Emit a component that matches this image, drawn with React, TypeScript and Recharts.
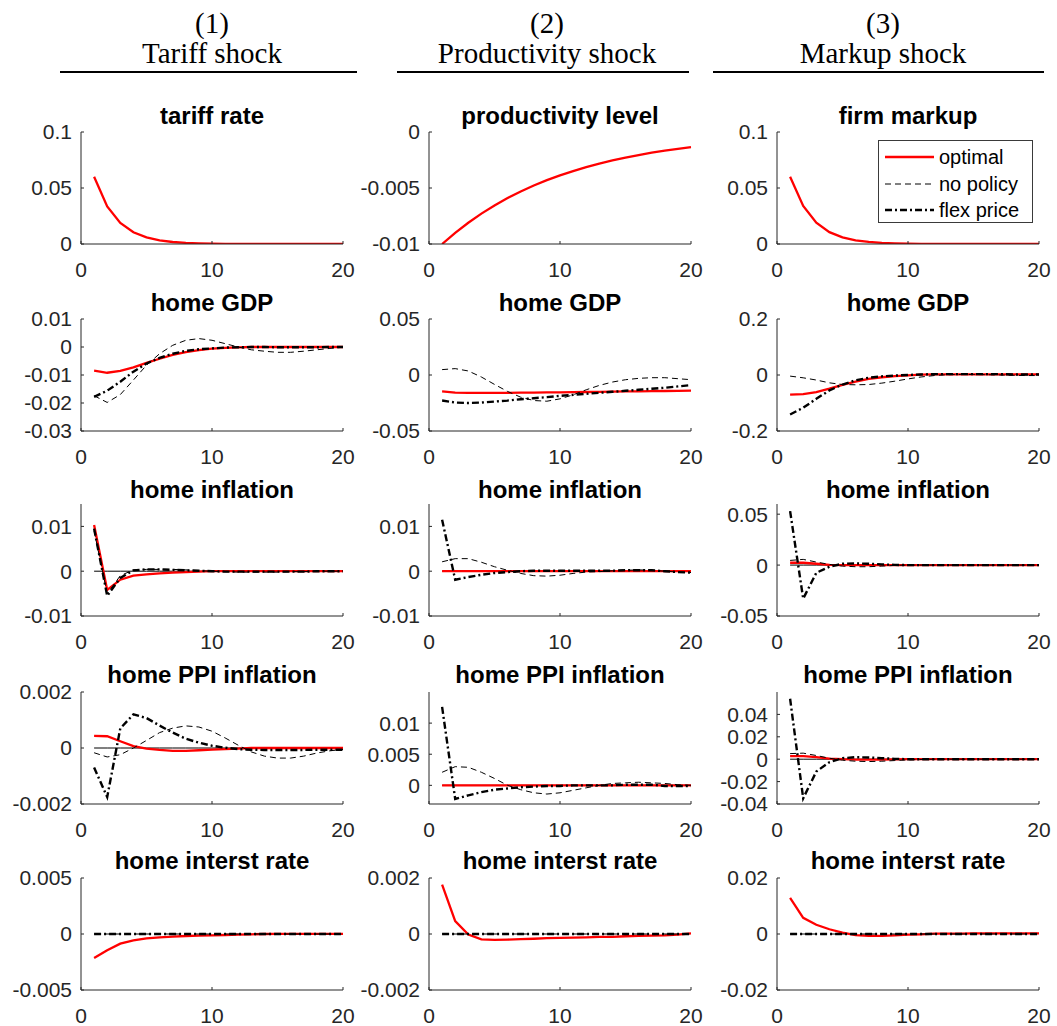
import React from 'react';
import { LineChart, Line, XAxis, YAxis } from 'recharts';

// quarters after the shock
const periods = [1, 2, 3, 4, 5, 6, 7, 8, 9, 10, 11, 12, 13, 14, 15, 16, 17, 18, 19, 20];
const flatZero = [0, 0, 0, 0, 0, 0, 0, 0, 0, 0, 0, 0, 0, 0, 0, 0, 0, 0, 0, 0];

const columnHeads = ['(1)', '(2)', '(3)'];
const shockNames = ['Tariff shock', 'Productivity shock', 'Markup shock'];
const rowTitles = [
  ['tariff rate', 'productivity level', 'firm markup'],
  ['home GDP', 'home GDP', 'home GDP'],
  ['home inflation', 'home inflation', 'home inflation'],
  ['home PPI inflation', 'home PPI inflation', 'home PPI inflation'],
  ['home interst rate', 'home interst rate', 'home interst rate'],
];
const seriesNames = ['optimal', 'no policy', 'flex price'];
const xTicks = [0, 10, 20];

// row 1: the shock itself
const tariffOpt = [0.06, 0.0335, 0.0188, 0.0105, 0.0059, 0.0033, 0.0018, 0.001, 0.0006, 0.0003, 0.0002, 0.0001, 0.0001, 0, 0, 0, 0, 0, 0, 0];
const prodOpt = [-0.01, -0.009, -0.0081, -0.00729, -0.00656, -0.0059, -0.00531, -0.00478, -0.0043, -0.00387, -0.00349, -0.00314, -0.00282, -0.00254, -0.00229, -0.00206, -0.00185, -0.00167, -0.0015, -0.00135];
const markupOpt = [0.06, 0.034, 0.019, 0.0106, 0.006, 0.0033, 0.0019, 0.001, 0.0006, 0.0003, 0.0002, 0.0001, 0.0001, 0, 0, 0, 0, 0, 0, 0];

// row 2: home GDP
const gdp1Opt = [-0.0084, -0.0092, -0.0085, -0.0073, -0.0057, -0.0042, -0.0028, -0.0018, -0.0011, -0.0006, -0.0003, -0.0001, 0, 0, 0, 0, 0, 0, 0, 0];
const gdp1Nop = [-0.0174, -0.0198, -0.017, -0.0118, -0.0065, -0.0024, 0.0006, 0.0024, 0.003, 0.0024, 0.0012, 0, -0.001, -0.0015, -0.0019, -0.0019, -0.0015, -0.001, -0.0005, -0.0001];
const gdp1Flex = [-0.0178, -0.0156, -0.0124, -0.0088, -0.0059, -0.0039, -0.0024, -0.0014, -0.0008, -0.0005, -0.0002, -0.0001, 0, 0, -0.0001, -0.0001, -0.0001, -0.0001, 0, 0];
const gdp2Opt = [-0.0147, -0.0157, -0.016, -0.016, -0.016, -0.0159, -0.0158, -0.0157, -0.0156, -0.0155, -0.0153, -0.0152, -0.015, -0.0149, -0.0147, -0.0146, -0.0144, -0.0143, -0.0141, -0.014];
const gdp2Nop = [0.0048, 0.0057, 0.0036, -0.0018, -0.0084, -0.0147, -0.0198, -0.0228, -0.0234, -0.0213, -0.0177, -0.0132, -0.0093, -0.0063, -0.0042, -0.003, -0.0024, -0.0024, -0.0033, -0.0042];
const gdp2Flex = [-0.0228, -0.0246, -0.025, -0.0246, -0.0237, -0.0228, -0.0216, -0.0207, -0.0198, -0.0186, -0.0177, -0.0168, -0.0159, -0.015, -0.0141, -0.0132, -0.0123, -0.0114, -0.0102, -0.009];
const gdp3Opt = [-0.07, -0.068, -0.061, -0.049, -0.035, -0.024, -0.014, -0.008, -0.004, -0.001, 0.001, 0.002, 0.002, 0.002, 0.002, 0.002, 0.002, 0.002, 0.002, 0.002];
const gdp3Nop = [-0.004, -0.01, -0.018, -0.028, -0.034, -0.035, -0.034, -0.029, -0.022, -0.014, -0.007, -0.002, 0.001, 0.002, 0.002, 0.001, 0, -0.001, -0.002, -0.002];
const gdp3Flex = [-0.141, -0.117, -0.085, -0.055, -0.034, -0.019, -0.01, -0.005, -0.002, 0, 0.002, 0.003, 0.003, 0.003, 0.003, 0.003, 0.003, 0.002, 0.002, 0.002];

// row 3: home inflation
const inf1Opt = [0.0103, -0.0042, -0.0019, -0.001, -0.0007, -0.0005, -0.0003, -0.0002, -0.0001, 0, 0, 0, 0, 0, 0, 0, 0, 0, 0, 0];
const inf1Nop = [0.009, -0.005, -0.001, 0.0003, 0.0004, 0.0004, 0.0004, 0.0003, 0.0001, 0, -0.0001, -0.0002, -0.0002, -0.0002, -0.0002, -0.0001, -0.0001, 0, 0, 0];
const inf1Flex = [0.0095, -0.0055, -0.0015, 0.0002, 0.0004, 0.0004, 0.0003, 0.0002, 0.0001, 0, -0.0001, -0.0001, -0.0001, -0.0001, -0.0001, -0.0001, -0.0001, 0, 0, 0];
const inf2Opt = [0, 0, 0, 0, 0, 0, 0, 0, 0, 0, 0, 0, 0, 0, 0, 0, 0, 0, 0, 0];
const inf2Nop = [0.0021, 0.0028, 0.0028, 0.002, 0.001, 0.0002, -0.0005, -0.001, -0.0011, -0.0009, -0.0005, -0.0002, -0.0001, 0.0001, 0.0002, 0.0003, 0.0002, 0, -0.0002, -0.0003];
const inf2Flex = [0.0115, -0.0019, -0.0013, -0.0008, -0.0004, -0.0002, 0, 0.0001, 0.0001, 0.0001, 0.0001, 0.0001, 0.0001, 0.0001, 0.0002, 0.0002, 0.0002, 0, -0.0002, -0.0003];
const inf3Opt = [0.0023, 0.0023, 0.0013, 0.0003, 0, 0, 0, 0, 0, 0, 0, 0, 0, 0, 0, 0, 0, 0, 0, 0];
const inf3Nop = [0.0046, 0.0056, 0.003, 0.0007, -0.001, -0.0016, -0.0016, -0.001, -0.0003, 0, 0, 0, 0, 0, 0, 0, 0, 0, 0, 0];
const inf3Flex = [0.053, -0.033, -0.0076, -0.0016, 0.0013, 0.0016, 0.0013, 0.0007, 0.0002, 0, 0, 0, 0, 0, 0, 0, 0, 0, 0, 0];

// row 4: home PPI inflation
const ppi1Opt = [0.00043, 0.00042, 0.00024, 0.00007, -0.00002, -0.00007, -0.0001, -0.0001, -0.00008, -0.00006, -0.00004, -0.00002, 0, 0, 0, 0, 0, 0, 0, 0];
const ppi1Nop = [-0.00017, -0.00032, -0.00024, 0, 0.00027, 0.00055, 0.00071, 0.00079, 0.00075, 0.0006, 0.00036, 0.0001, -0.00014, -0.00029, -0.00036, -0.00036, -0.00029, -0.00018, -0.0001, -0.00005];
const ppi1Flex = [-0.0007, -0.00175, 0.0007, 0.0012, 0.00107, 0.0008, 0.00055, 0.00033, 0.00019, 0.00008, 0.00001, -0.00004, -0.00006, -0.00007, -0.00007, -0.00007, -0.00007, -0.00006, -0.00006, -0.00006];
const ppi2Opt = [0, 0, 0, 0, 0, 0, 0, 0, 0, 0, 0, 0, 0, 0, 0, 0, 0, 0, 0, 0];
const ppi2Nop = [0.0021, 0.003, 0.0029, 0.0021, 0.0011, 0, -0.0007, -0.0012, -0.0014, -0.0012, -0.0008, -0.0004, 0, 0.0003, 0.0004, 0.0005, 0.0004, 0.0003, 0.0001, 0];
const ppi2Flex = [0.0126, -0.0022, -0.0016, -0.0011, -0.0007, -0.0005, -0.0003, -0.0002, -0.0001, -0.0001, 0, 0, 0, 0, 0.0001, 0.0001, 0.0001, -0.0001, -0.0001, -0.0001];
const ppi3Opt = [0.0027, 0.0027, 0.0018, 0.0006, 0, -0.0003, -0.0003, -0.0003, -0.0001, 0, 0, 0, 0, 0, 0, 0, 0, 0, 0, 0];
const ppi3Nop = [0.005, 0.0054, 0.0033, 0.0009, -0.0009, -0.0018, -0.0021, -0.0018, -0.0012, -0.0006, -0.0003, 0, 0, 0, 0, 0, 0, 0, 0, 0];
const ppi3Flex = [0.054, -0.035, -0.011, -0.0027, 0.0009, 0.0018, 0.0015, 0.0009, 0.0003, 0, 0, 0, 0, 0, 0, 0, 0, 0, 0, 0];

// row 5: home interest rate (no policy / flex price stay at zero)
const rate1Opt = [-0.00214, -0.00145, -0.00086, -0.00056, -0.00039, -0.0003, -0.00024, -0.00018, -0.00015, -0.00012, -0.00009, -0.00006, -0.00003, 0, 0.00001, 0.00002, 0.00002, 0.00002, 0.00002, 0.00002];
const rate2Opt = [0.00176, 0.00046, -0.00002, -0.00019, -0.00021, -0.0002, -0.00018, -0.00017, -0.00015, -0.00014, -0.00013, -0.00012, -0.0001, -0.0001, -0.00008, -0.00007, -0.00006, -0.00005, -0.00002, 0.00002];
const rate3Opt = [0.0129, 0.0058, 0.0033, 0.0017, 0.0005, -0.0004, -0.0007, -0.0007, -0.0005, -0.0002, -0.0001, 0.0001, 0.0001, 0.0001, 0.0002, 0.0002, 0.0002, 0.0002, 0.0002, 0.0002];

// y-axis ranges and tick labels
const yDomains = [
  [[0, 0.1], [-0.01, 0], [0, 0.1]],
  [[-0.03, 0.01], [-0.05, 0.05], [-0.2, 0.2]],
  [[-0.01, 0.015], [-0.01, 0.015], [-0.05, 0.06]],
  [[-0.002, 0.002], [-0.003, 0.015], [-0.04, 0.06]],
  [[-0.005, 0.005], [-0.002, 0.002], [-0.02, 0.02]],
];
const yTicks = [
  [[0, 0.05, 0.1], [-0.01, -0.005, 0], [0, 0.05, 0.1]],
  [[-0.03, -0.02, -0.01, 0, 0.01], [-0.05, 0, 0.05], [-0.2, 0, 0.2]],
  [[-0.01, 0, 0.01], [-0.01, 0, 0.01], [-0.05, 0, 0.05]],
  [[-0.002, 0, 0.002], [0, 0.005, 0.01], [-0.04, -0.02, 0, 0.02, 0.04]],
  [[-0.005, 0, 0.005], [-0.002, 0, 0.002], [-0.02, 0, 0.02]],
];

const optRows = [
  [tariffOpt, prodOpt, markupOpt],
  [gdp1Opt, gdp2Opt, gdp3Opt],
  [inf1Opt, inf2Opt, inf3Opt],
  [ppi1Opt, ppi2Opt, ppi3Opt],
  [rate1Opt, rate2Opt, rate3Opt],
];
const nopRows = [
  [null, null, null],
  [gdp1Nop, gdp2Nop, gdp3Nop],
  [inf1Nop, inf2Nop, inf3Nop],
  [ppi1Nop, ppi2Nop, ppi3Nop],
  [flatZero, flatZero, flatZero],
];
const flexRows = [
  [null, null, null],
  [gdp1Flex, gdp2Flex, gdp3Flex],
  [inf1Flex, inf2Flex, inf3Flex],
  [ppi1Flex, ppi2Flex, ppi3Flex],
  [flatZero, flatZero, flatZero],
];
const zeroLineRows = [false, false, true, true, false];

const colLeft = [81, 429, 777];
const rowTop = [132, 319, 504, 692, 878];
const titleBase = [124, 311, 498, 683, 869];
const PW = 262;
const PH = 112;
const AXIS = '#262626';
const SANS = 'Arial, "Liberation Sans", sans-serif';
const SERIF = '"Times New Roman", "Liberation Serif", serif';

const fmt = (v: number) => String(parseFloat(Number(v).toPrecision(6)));

function Panel({ r, c }: { r: number; c: number }) {
  const opt = optRows[r][c];
  const nop = nopRows[r][c];
  const flex = flexRows[r][c];
  const data = periods.map((t, i) => ({
    t,
    opt: opt[i],
    nop: nop ? nop[i] : undefined,
    flex: flex ? flex[i] : undefined,
    zero: zeroLineRows[r] ? flatZero[i] : undefined,
  }));
  const rightPad = c === 2 ? 15 : 20;
  return (
    <div style={{ position: 'absolute', left: colLeft[c] - 80, top: rowTop[r] - 12 }}>
      <LineChart width={80 + PW + rightPad} height={12 + PH + 40} data={data}
        margin={{ top: 12, right: rightPad, left: 0, bottom: 0 }}>
        <XAxis dataKey="t" type="number" domain={[0, 20]} ticks={xTicks} interval={0}
          height={40} tickSize={-3} tickMargin={21}
          axisLine={{ stroke: AXIS, strokeWidth: 1 }} tickLine={{ stroke: AXIS }}
          tick={{ fontSize: 21, fill: AXIS, fontFamily: SANS }} />
        <YAxis type="number" domain={yDomains[r][c]} ticks={yTicks[r][c]} interval={0}
          allowDataOverflow width={80} tickSize={-3} tickMargin={12} tickFormatter={fmt}
          axisLine={{ stroke: AXIS, strokeWidth: 1 }} tickLine={{ stroke: AXIS }}
          tick={{ fontSize: 21, fill: AXIS, fontFamily: SANS }} />
        {zeroLineRows[r] && (
          <Line type="linear" dataKey="zero" stroke="#000" strokeWidth={1} dot={false}
            isAnimationActive={false} />
        )}
        <Line type="linear" dataKey="opt" stroke="#ff0000" strokeWidth={2.3} dot={false}
          isAnimationActive={false} />
        {nop && (
          <Line type="linear" dataKey="nop" stroke="#000" strokeWidth={1} strokeDasharray="6 4"
            dot={false} isAnimationActive={false} />
        )}
        {flex && (
          <Line type="linear" dataKey="flex" stroke="#000" strokeWidth={2.4} strokeDasharray="7 3 2 3"
            dot={false} isAnimationActive={false} />
        )}
      </LineChart>
    </div>
  );
}

function LegendBox() {
  const styles = [
    { stroke: '#ff0000', width: 2.3, dash: undefined },
    { stroke: '#000', width: 1, dash: '6 4' },
    { stroke: '#000', width: 2.4, dash: '7 3 2 3' },
  ];
  return (
    <div style={{
      position: 'absolute', left: 878, top: 140, width: 155, height: 83,
      border: '1px solid #3a3a3a', background: '#fff', boxSizing: 'border-box',
    }}>
      {seriesNames.map((name, i) => (
        <div key={name} style={{ position: 'absolute', left: 0, top: 4 + i * 26.5, height: 24, display: 'flex', alignItems: 'center' }}>
          <svg width={60} height={24} style={{ display: 'block' }}>
            <line x1={6} x2={55} y1={12} y2={12} stroke={styles[i].stroke}
              strokeWidth={styles[i].width} strokeDasharray={styles[i].dash} />
          </svg>
          <span style={{ fontFamily: SANS, fontSize: 20, color: '#000', lineHeight: '24px' }}>{name}</span>
        </div>
      ))}
    </div>
  );
}

export default function App() {
  const headCenters = [212, 547, 883];
  const ruleSpans = [[60, 357], [397, 689], [713, 1044]];
  return (
    <div style={{ position: 'absolute', left: 0, top: 0, width: 1057, height: 1026, background: '#fff', overflow: 'hidden' }}>
      <svg width={1057} height={1026} style={{ position: 'absolute', left: 0, top: 0 }}>
        {columnHeads.map((h, c) => (
          <g key={h}>
            <text x={headCenters[c]} y={33} textAnchor="middle" fontFamily={SERIF} fontSize={29} fill="#000">{h}</text>
            <text x={headCenters[c]} y={63} textAnchor="middle" fontFamily={SERIF} fontSize={29} fill="#000">{shockNames[c]}</text>
            <line x1={ruleSpans[c][0]} x2={ruleSpans[c][1]} y1={72} y2={72} stroke="#000" strokeWidth={2} />
          </g>
        ))}
        {rowTitles.map((row, r) =>
          row.map((title, c) => (
            <text key={`${r}-${c}`} x={colLeft[c] + PW / 2} y={titleBase[r]} textAnchor="middle"
              fontFamily={SANS} fontSize={24} fontWeight="bold" fill="#000">{title}</text>
          ))
        )}
      </svg>
      {rowTitles.map((row, r) => row.map((_, c) => <Panel key={`p${r}${c}`} r={r} c={c} />))}
      <LegendBox />
    </div>
  );
}
